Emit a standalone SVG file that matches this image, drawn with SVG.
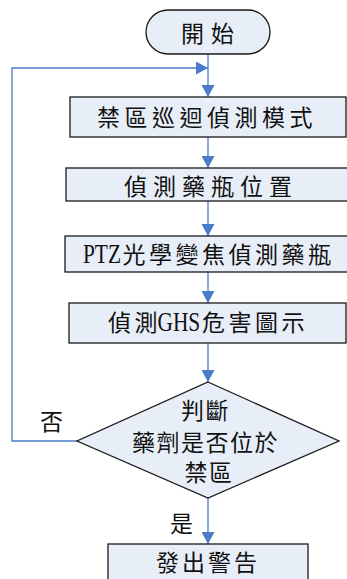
<svg xmlns="http://www.w3.org/2000/svg" width="347" height="579" viewBox="0 0 347 579">
<defs>
<style>
.node{fill:#E8EEF8;stroke:#1a1a1a;stroke-width:1.3}
.edge{fill:none;stroke:#4A7CC9;stroke-width:1.3}
.t{font-family:"Liberation Serif","Noto Sans CJK TC",serif;font-size:23px;fill:#111}
.lat{font-family:"Liberation Serif",serif;font-size:22px;fill:#111}
</style>
<marker id="ah" viewBox="0 0 12 13" refX="12" refY="6.5" markerWidth="12" markerHeight="13" markerUnits="userSpaceOnUse" orient="auto">
<path d="M0,0 L12,6.5 L0,13 Z" fill="#4A7CC9"/>
</marker>
</defs>
<rect width="347" height="579" fill="#fff"/>
<g id="connectors">
<line class="edge" x1="208" y1="54" x2="208" y2="97" marker-end="url(#ah)"/>
<polyline class="edge" points="77,441 12,441 12,68 208,68" marker-end="url(#ah)"/>
<line class="edge" x1="208" y1="137" x2="208" y2="168" marker-end="url(#ah)"/>
<line class="edge" x1="208" y1="201" x2="208" y2="236" marker-end="url(#ah)"/>
<line class="edge" x1="208" y1="272" x2="208" y2="303" marker-end="url(#ah)"/>
<line class="edge" x1="208" y1="343" x2="208" y2="382" marker-end="url(#ah)"/>
<line class="edge" x1="208" y1="498" x2="208" y2="544" marker-end="url(#ah)"/>
<text class="t" x="40" y="429.5">否</text>
<text class="t" x="170" y="532">是</text>
</g>
<g id="start">
<rect class="node" x="146" y="10" width="124" height="44" rx="22" ry="22"/>
<text class="t" x="181" y="41.5" letter-spacing="7">開始</text>
</g>
<g id="patrol">
<rect class="node" x="70" y="97" width="276" height="40"/>
<text class="t" x="97" y="125.5" letter-spacing="4.5">禁區巡迴偵測模式</text>
</g>
<g id="locate">
<rect class="node" x="66" y="168" width="290" height="33"/>
<text class="t" x="124" y="195" letter-spacing="6">偵測藥瓶位置</text>
</g>
<g id="ptz">
<rect class="node" x="65" y="236" width="295" height="36"/>
<text class="lat" transform="translate(83,263) scale(0.97,1.25)">PTZ</text>
<text class="t" x="122.5" y="263" letter-spacing="3.5">光學變焦偵測藥瓶</text>
</g>
<g id="ghs">
<rect class="node" x="69" y="303" width="277" height="40"/>
<text class="t" x="108 134.5" y="331">偵測</text>
<text class="lat" transform="translate(157.5,331) scale(0.97,1.25)">GHS</text>
<text class="t" x="202" y="331" letter-spacing="3.5">危害圖示</text>
</g>
<g id="decision">
<polygon class="node" points="208,382 339,441 208,498 77,441"/>
<text class="t" text-anchor="middle" letter-spacing="1.5">
<tspan x="209" y="418.5">判斷</tspan>
<tspan x="209" y="450.5">藥劑是否位於</tspan>
<tspan x="209" y="480.5">禁區</tspan>
</text>
</g>
<g id="alert">
<rect class="node" x="108" y="544" width="200" height="45"/>
<text class="t" x="156" y="570.5" letter-spacing="3">發出警告</text>
</g>
</svg>
